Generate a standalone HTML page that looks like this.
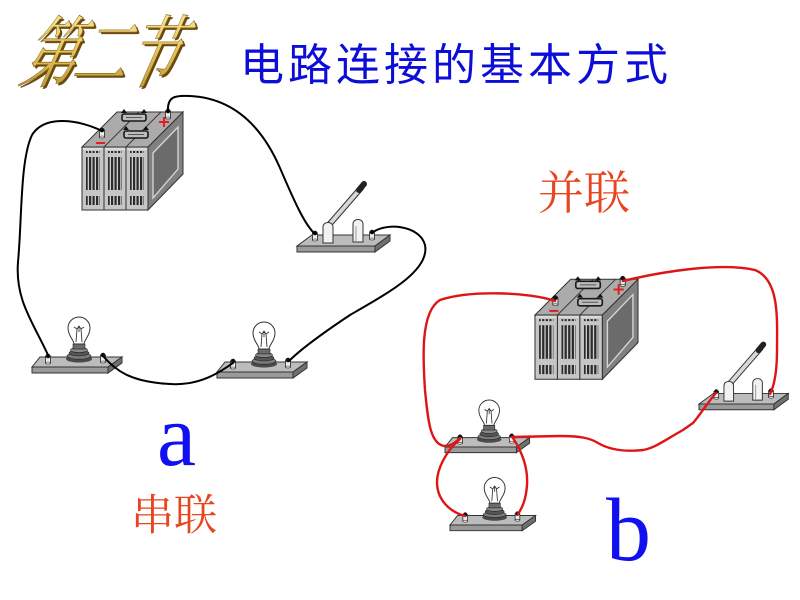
<!DOCTYPE html>
<html><head><meta charset="utf-8">
<style>
html,body{margin:0;padding:0;background:#fff;}
svg{display:block;}
</style></head><body>
<svg width="800" height="600" viewBox="0 0 800 600" xmlns="http://www.w3.org/2000/svg">
<defs>
 <pattern id="stripes" patternUnits="userSpaceOnUse" width="3.5" height="10">
   <rect width="3.5" height="10" fill="#cfcfcf"/>
   <rect width="2.2" height="10" fill="#2b2b2b"/>
 </pattern>
 <linearGradient id="gold" x1="0" y1="0" x2="0" y2="1">
   <stop offset="0" stop-color="#fff4c0"/>
   <stop offset="0.5" stop-color="#e8c860"/>
   <stop offset="1" stop-color="#b08830"/>
 </linearGradient>
 <g id="term">
   <rect x="-2.5" y="0" width="5" height="7" fill="#ececec" stroke="#222" stroke-width="0.8"/>
   <ellipse cx="0" cy="7" rx="2.5" ry="1" fill="#ececec" stroke="#222" stroke-width="0.6"/>
   <circle cx="0" cy="0" r="2.3" fill="#111"/>
 </g>
 <g id="cell">
   <rect x="0" y="0" width="22" height="63" fill="#c6c6c6" stroke="#333" stroke-width="1"/>
   <line x1="1" y1="2" x2="21" y2="2" stroke="#eee"/>
   <rect x="4" y="4" width="14" height="2" fill="url(#stripes)"/>
   <rect x="4" y="10" width="14" height="33" fill="url(#stripes)"/>
   <rect x="4" y="49" width="14" height="9" fill="url(#stripes)"/>
 </g>
 <g id="handle">
   <rect x="0" y="0" width="24" height="7" rx="2" fill="#bdbdbd" stroke="#1a1a1a" stroke-width="1.6"/>
   <line x1="4" y1="3.5" x2="20" y2="3.5" stroke="#555" stroke-width="1"/>
   <path d="M-1,-1 L2,-5 L5,-1 Z M19,-1 L22,-5 L25,-1 Z" fill="#111"/>
 </g>
 <g id="bat">
   <polygon points="66,0 101,-35 101,27 66,63" fill="#808080" stroke="#333"/>
   <polygon points="71,6 96,-20 96,22 71,51" fill="#6b6b6b" stroke="#d8d8d8" stroke-width="1.3"/>
   <polygon points="0,0 66,0 101,-35 35,-35" fill="#ababab" stroke="#333"/>
   <line x1="22" y1="0" x2="57" y2="-35" stroke="#3a3a3a"/>
   <line x1="44" y1="0" x2="79" y2="-35" stroke="#3a3a3a"/>
   <use href="#cell" x="0" y="0"/>
   <use href="#cell" x="22" y="0"/>
   <use href="#cell" x="44" y="0"/>
   <use href="#handle" x="40" y="-33"/>
   <use href="#handle" x="42" y="-16"/>
   <use href="#term" x="20" y="-17"/>
   <use href="#term" x="86" y="-36"/>
   <path d="M14,-4 H23" stroke="#e02020" stroke-width="2"/>
   <path d="M77,-25 H87 M82,-30 V-20" stroke="#e02020" stroke-width="2"/>
 </g>
 <g id="lamp">
   <polygon points="0,0 76,0 90,-10 8,-10" fill="#bcbcbc" stroke="#333"/>
   <polygon points="0,0 76,0 76,6 0,6" fill="#9a9a9a" stroke="#333"/>
   <polygon points="76,0 90,-10 90,-4 76,6" fill="#707070" stroke="#333"/>
   <ellipse cx="47" cy="-8" rx="13" ry="3.5" fill="#4a4a4a"/>
   <ellipse cx="47" cy="-11" rx="12" ry="3.2" fill="#7a7a7a" stroke="#222" stroke-width=".6"/>
   <ellipse cx="47" cy="-14" rx="10" ry="3" fill="#555" stroke="#222" stroke-width=".6"/>
   <ellipse cx="47" cy="-17" rx="8.5" ry="2.6" fill="#8a8a8a" stroke="#222" stroke-width=".6"/>
   <rect x="41" y="-23" width="12" height="5" fill="#6a6a6a" stroke="#222" stroke-width=".6"/>
   <path d="M42,-23 C42,-27 36,-31 36,-39 A11,11 0 1 1 58,-39 C58,-31 52,-27 52,-23 Z" fill="#fff" stroke="#333" stroke-width="1"/>
   <path d="M44,-25 L45,-38 M50,-25 L49,-38 M42,-40 L45,-38 L47,-41 L49,-38 L52,-40 M47,-41 L47,-35" stroke="#333" stroke-width=".9" fill="none"/>
   <use href="#term" x="16" y="-11"/>
   <use href="#term" x="71" y="-12"/>
 </g>
 <g id="sw">
   <polygon points="0,0 78,0 93,-11 15,-11" fill="#bcbcbc" stroke="#333"/>
   <polygon points="0,0 78,0 78,6 0,6" fill="#9a9a9a" stroke="#333"/>
   <polygon points="78,0 93,-11 93,-5 78,6" fill="#707070" stroke="#333"/>
   <path d="M56,-4 V-22 C56,-28 66,-28 66,-22 V-4 Z" fill="#f2f2f2" stroke="#333"/>
   <path d="M59,-5 V-20" stroke="#999"/>
   <line x1="31" y1="-20" x2="64" y2="-58" stroke="#333" stroke-width="6" stroke-linecap="round"/>
   <line x1="31" y1="-20" x2="64" y2="-58" stroke="#d8d8d8" stroke-width="4"/>
   <line x1="62" y1="-56" x2="67" y2="-62" stroke="#222" stroke-width="6" stroke-linecap="round"/>
   <path d="M26,-3 V-19 C26,-25 36,-25 36,-19 V-3 Z" fill="#f2f2f2" stroke="#333"/>
   <use href="#term" x="18" y="-13"/>
   <use href="#term" x="75" y="-14"/>
 </g>
</defs>

<!-- gold heading -->
<g font-family="'Noto Serif CJK SC','Liberation Serif',serif" font-size="54" letter-spacing="-3">
  <text transform="translate(20,83) skewX(-24) scale(1,1.45)" fill="#6a4a10">第二节</text>
  <text transform="translate(18,81) skewX(-24) scale(1,1.45)" fill="url(#gold)" stroke="#8a6818" stroke-width="0.5">第二节</text>
</g>

<!-- title -->
<text x="240" y="80" font-family="'Liberation Sans','Noto Sans CJK SC',sans-serif" font-size="44" letter-spacing="4" fill="#0d0dd8">电路连接的基本方式</text>

<!-- circuit a components -->
<use href="#bat" transform="translate(82,147)"/>
<use href="#sw" transform="translate(297,246)"/>
<use href="#lamp" transform="translate(32,367)"/>
<use href="#lamp" transform="translate(217,372)"/>

<!-- circuit a wires -->
<g fill="none" stroke="#000" stroke-width="2" stroke-linecap="round">
  <path d="M102,131 C80,120 45,114 32,135 C20,160 22,220 18,262 C15,300 33,322 48,355"/>
  <path d="M168,112 C167,97 174,95 190,96 C230,98 260,122 280,168 C295,203 305,225 315,234"/>
  <path d="M372,233 C385,222 420,225 425,245 C430,270 390,292 350,315 C320,335 300,350 289,361"/>
  <path d="M103,356 C115,370 130,382 170,384 C200,386 220,372 233,363"/>
</g>

<!-- circuit b components -->
<use href="#bat" transform="translate(535,315) scale(1.02)"/>
<use href="#sw" transform="translate(699,404) scale(0.96)"/>
<use href="#lamp" transform="translate(445,447) scale(0.94)"/>
<use href="#lamp" transform="translate(450,525) scale(0.95)"/>

<!-- circuit b wires -->
<g fill="none" stroke="#e01414" stroke-width="2.4" stroke-linecap="round">
  <path d="M623,281 C660,272 720,262 755,270 C780,280 777,320 777,350 C777,375 773,388 770,394"/>
  <path d="M555,301 C530,292 470,290 440,300 C420,312 423,360 425,390 C428,420 430,445 445,446 C452,446 457,441 460,438"/>
  <path d="M716,393 C708,402 700,415 693,423 L683,430 C665,440 655,448 643,450 C625,452 610,450 598,443 C590,438 580,436 560,436 L512,437"/>
  <path d="M460,439 C445,452 437,470 437,482 C437,500 450,512 465,516"/>
  <path d="M513,438 C524,455 528,470 527,485 C526,500 522,508 518,514"/>
</g>

<!-- labels -->
<text x="538" y="209" font-family="'Liberation Serif','Noto Serif CJK SC',serif" font-size="46" fill="#e8441e">并联</text>
<text x="131" y="530" font-family="'Liberation Serif','Noto Serif CJK SC',serif" font-size="43" fill="#e8441e">串联</text>
<text x="157" y="465" font-family="'Liberation Serif',serif" font-size="88" fill="#1010f0">a</text>
<text x="606" y="560" font-family="'Liberation Serif',serif" font-size="90" fill="#1010f0">b</text>
</svg>
</body></html>
